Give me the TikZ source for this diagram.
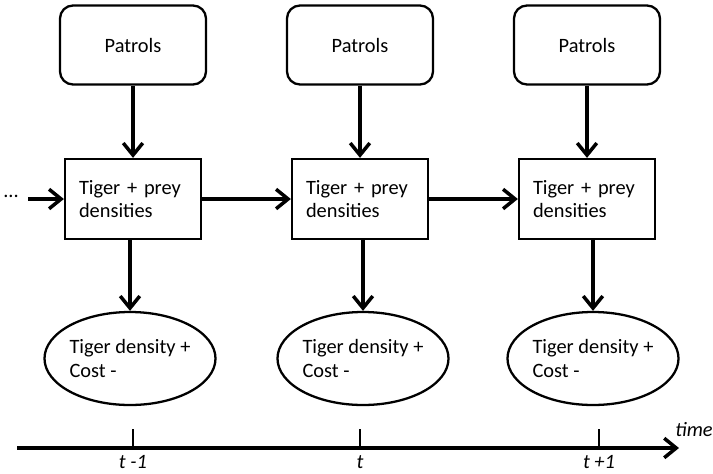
\documentclass[tikz,border=0pt]{standalone}
\usepackage{fontspec}
\setmainfont{Carlito}
\usepackage{tikz}
\usetikzlibrary{positioning, arrows.meta, shapes.geometric}

\begin{document}
\begin{tikzpicture}[
  txt/.style={font=\fontsize{11.6}{13.5}\selectfont},
  patrol/.style={txt, draw, line width=1.3pt, rounded corners=0.26cm, minimum width=2.92cm, minimum height=1.58cm},
  dens/.style={txt, draw, line width=1.3pt, align=left, text width=2.16cm, inner xsep=0.28cm, minimum height=1.6cm},
  outc/.style={txt, draw, ellipse, line width=1.3pt, align=left, inner sep=0pt, minimum width=3.34cm, minimum height=1.86cm},
  flow/.style={-{Straight Barb[length=2.4mm,width=3.9mm]}, line width=2pt},
  tlab/.style={txt, font=\fontsize{11.6}{13.5}\selectfont\itshape}]
\useasboundingbox (0,0) rectangle (14.26,-9.46);
% patrol effort per period
\node[patrol] (p1) at (2.66,-0.9) {Patrols};
\node[patrol] (p2) at (7.2,-0.9) {Patrols};
\node[patrol] (p3) at (11.74,-0.9) {Patrols};
% state of the populations
\node[dens] (s1) at (2.66,-3.98) {Tiger + prey\\densities};
\node[dens] (s2) at (7.2,-3.98) {Tiger + prey\\densities};
\node[dens] (s3) at (11.74,-3.98) {Tiger + prey\\densities};
% rewards
\node[outc] (r1) at (2.6,-7.17) {Tiger density +\\Cost -};
\node[outc] (r2) at (7.26,-7.17) {Tiger density +\\Cost -};
\node[outc] (r3) at (11.86,-7.17) {Tiger density +\\Cost -};
\node[txt] (dots) at (0.22,-3.93) {...};
\coordinate (in) at (0.56,-3.98);
\draw[flow] (p1) -- (s1);
\draw[flow] (p2) -- (s2);
\draw[flow] (p3) -- (s3);
\draw[flow] (s1.south -| r1.north) -- (r1);
\draw[flow] (s2.south -| r2.north) -- (r2);
\draw[flow] (s3.south -| r3.north) -- (r3);
\draw[flow] (in) -- (s1);
\draw[flow] (s1) -- (s2);
\draw[flow] (s2) -- (s3);
% time axis
\coordinate (t0) at (0.34,-8.96);
\coordinate (tend) at (13.58,-8.96);
\draw[flow] (t0) -- (tend);
\node[tlab] (time) at (13.88,-8.6) {time};
\coordinate (k1) at (2.66,-8.96);
\coordinate (k2) at (7.2,-8.96);
\coordinate (k3) at (11.98,-8.96);
\draw[line width=0.6pt] (k1) -- ++(0,0.38);
\draw[line width=0.6pt] (k2) -- ++(0,0.38);
\draw[line width=0.6pt] (k3) -- ++(0,0.38);
\node[tlab, below=0.02cm of k1] (l1) {t -1};
\node[tlab, below=0.02cm of k2] (l2) {t};
\node[tlab, below=0.02cm of k3] (l3) {t +1};
\end{tikzpicture}
\end{document}
